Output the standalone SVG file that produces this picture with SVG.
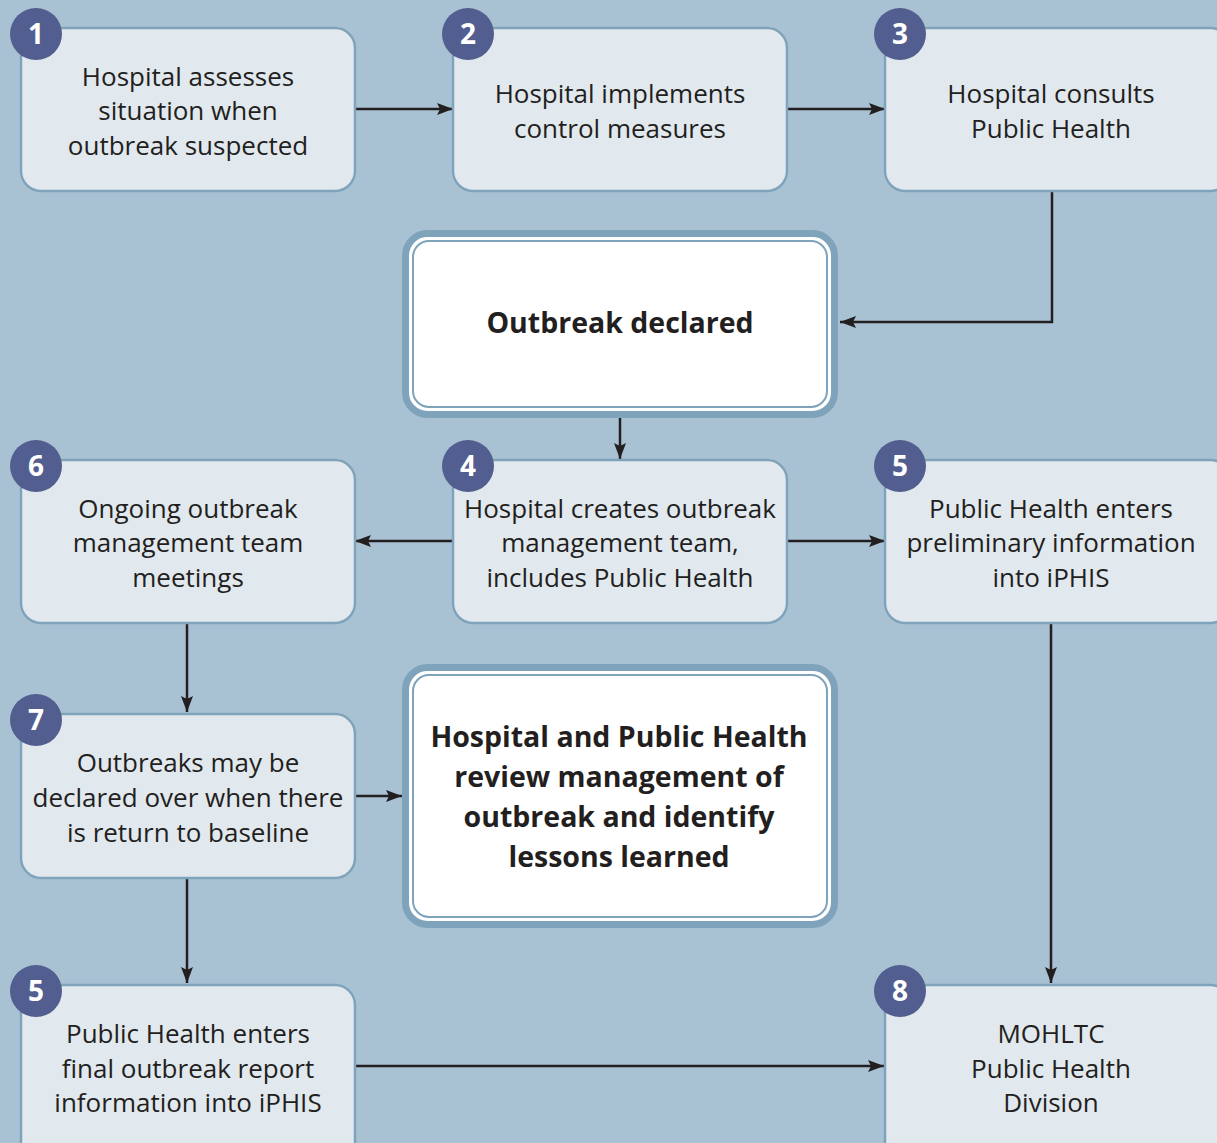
<svg xmlns="http://www.w3.org/2000/svg" width="1217" height="1143" viewBox="0 0 1217 1143">
<defs>
<marker id="ah" viewBox="0 0 16 12" refX="16" refY="6" markerWidth="16" markerHeight="12" markerUnits="userSpaceOnUse" orient="auto"><path d="M0,0 L16,6 L0,12 L3,6 Z" fill="#231f20"/></marker>
<style>
.box{fill:#e1e8ee;stroke:#7fa3ba;stroke-width:2.5}
.big{fill:#fff;stroke:#7fa3ba;stroke-width:7}
.inner{fill:none;stroke:#7fa3ba;stroke-width:2}
.t{font-family:"Open Sans","Noto Sans",sans-serif;font-size:26px;fill:#231f20;text-anchor:middle}
.b{font-family:"Open Sans","Noto Sans",sans-serif;font-size:28.5px;font-weight:bold;fill:#231f20;text-anchor:middle}
.badge{fill:#525e8f}
.n{font-family:"Open Sans","Noto Sans",sans-serif;font-size:28px;font-weight:bold;fill:#fff;text-anchor:middle}
.c{fill:none;stroke:#231f20;stroke-width:2.5;marker-end:url(#ah)}
</style>
</defs>
<rect width="1217" height="1143" fill="#a9c2d3"/>
<g id="connectors">
<path class="c" d="M355,109 H453"/>
<path class="c" d="M787,109 H885"/>
<path class="c" d="M1052,191 V322 H840"/>
<path class="c" d="M620,418 V459"/>
<path class="c" d="M453,541 H355"/>
<path class="c" d="M787,541 H885"/>
<path class="c" d="M187,623 V712"/>
<path class="c" d="M355,796 H402"/>
<path class="c" d="M187,878 V983"/>
<path class="c" d="M1051,623 V983"/>
<path class="c" d="M355,1066 H884"/>
</g>
<g id="n1"><rect class="box" x="21" y="28" width="334" height="163" rx="20"/><circle class="badge" cx="36" cy="34" r="26"/><text class="n" x="36" y="44">1</text>
<text class="t" x="188" y="86">Hospital assesses</text><text class="t" x="188" y="120">situation when</text><text class="t" x="188" y="155">outbreak suspected</text></g>
<g id="n2"><rect class="box" x="453" y="28" width="334" height="163" rx="20"/><circle class="badge" cx="468" cy="34" r="26"/><text class="n" x="468" y="44">2</text>
<text class="t" x="620" y="103">Hospital implements</text><text class="t" x="620" y="138">control measures</text></g>
<g id="n3"><rect class="box" x="885" y="28" width="345" height="163" rx="20"/><circle class="badge" cx="900" cy="34" r="26"/><text class="n" x="900" y="44">3</text>
<text class="t" x="1051" y="103">Hospital consults</text><text class="t" x="1051" y="138">Public Health</text></g>
<g id="declared"><rect class="big" x="405.5" y="233.5" width="429" height="181" rx="22"/><rect class="inner" x="413" y="241" width="414" height="166" rx="16"/>
<text class="b" x="620" y="333">Outbreak declared</text></g>
<g id="n6"><rect class="box" x="21" y="460" width="334" height="163" rx="20"/><circle class="badge" cx="36" cy="466" r="26"/><text class="n" x="36" y="476">6</text>
<text class="t" x="188" y="518">Ongoing outbreak</text><text class="t" x="188" y="552">management team</text><text class="t" x="188" y="587">meetings</text></g>
<g id="n4"><rect class="box" x="453" y="460" width="334" height="163" rx="20"/><circle class="badge" cx="468" cy="466" r="26"/><text class="n" x="468" y="476">4</text>
<text class="t" x="620" y="518">Hospital creates outbreak</text><text class="t" x="620" y="552">management team,</text><text class="t" x="620" y="587">includes Public Health</text></g>
<g id="n5a"><rect class="box" x="885" y="460" width="345" height="163" rx="20"/><circle class="badge" cx="900" cy="466" r="26"/><text class="n" x="900" y="476">5</text>
<text class="t" x="1051" y="518">Public Health enters</text><text class="t" x="1051" y="552">preliminary information</text><text class="t" x="1051" y="587">into iPHIS</text></g>
<g id="n7"><rect class="box" x="21" y="714" width="334" height="164" rx="20"/><circle class="badge" cx="36" cy="720" r="26"/><text class="n" x="36" y="730">7</text>
<text class="t" x="188" y="772">Outbreaks may be</text><text class="t" x="188" y="807">declared over when there</text><text class="t" x="188" y="842">is return to baseline</text></g>
<g id="review"><rect class="big" x="405.5" y="667.5" width="429" height="257" rx="22"/><rect class="inner" x="413" y="675" width="414" height="242" rx="16"/>
<text class="b" x="619" y="747">Hospital and Public Health</text><text class="b" x="619" y="787">review management of</text><text class="b" x="619" y="827">outbreak and identify</text><text class="b" x="619" y="867">lessons learned</text></g>
<g id="n5b"><rect class="box" x="21" y="985" width="334" height="180" rx="20"/><circle class="badge" cx="36" cy="991" r="26"/><text class="n" x="36" y="1001">5</text>
<text class="t" x="188" y="1043">Public Health enters</text><text class="t" x="188" y="1078">final outbreak report</text><text class="t" x="188" y="1112">information into iPHIS</text></g>
<g id="n8"><rect class="box" x="885" y="985" width="345" height="180" rx="20"/><circle class="badge" cx="900" cy="991" r="26"/><text class="n" x="900" y="1001">8</text>
<text class="t" x="1051" y="1043">MOHLTC</text><text class="t" x="1051" y="1078">Public Health</text><text class="t" x="1051" y="1112">Division</text></g>
</svg>
